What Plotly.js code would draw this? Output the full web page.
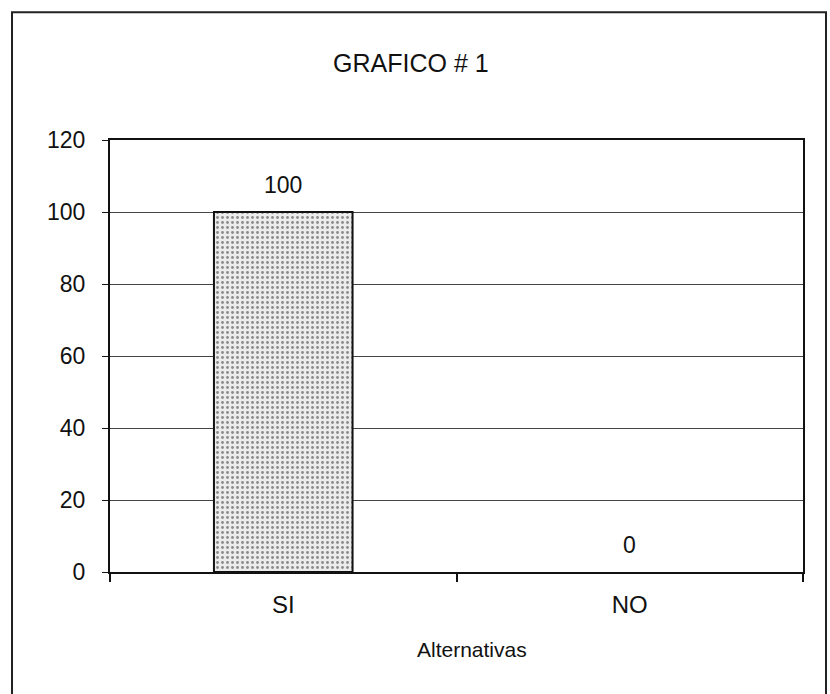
<!DOCTYPE html>
<html>
<head>
<meta charset="utf-8">
<script src="https://cdn.plot.ly/plotly-3.0.1.min.js"></script>
<style>html,body{margin:0;padding:0;background:#fff;}#chart{width:830px;height:694px;}</style>
</head>
<body>
<div id="chart"></div>
<script>
const categories = ['SI', 'NO'];
const values = [100, 0];
const valueLabels = ['100', '0'];
const yTicks = [0, 20, 40, 60, 80, 100, 120];
const chartTitle = 'GRAFICO # 1';
const xTitle = 'Alternativas';

const FONT = '"Liberation Sans", Arial, sans-serif';

const trace = {
  type: 'bar',
  x: categories,
  y: values,
  width: 0.4,
  marker: {
    color: '#ececec',
    line: {color: '#111', width: values.map(v => v > 0 ? 2 : 0)},
    pattern: {shape: '.', fgcolor: '#8a8a8a', bgcolor: '#ececec', size: 5, solidity: 0.25}
  },
  hoverinfo: 'none'
};

const labelAnnotations = categories.map((c, i) => ({
  xref: 'x', yref: 'y', x: c, y: values[i],
  text: valueLabels[i], showarrow: false,
  yanchor: 'middle', yshift: 27,
  font: {family: FONT, size: 23, color: '#111'}
}));

const layout = {
  width: 830,
  height: 694,
  margin: {l: 110, r: 27, t: 140, b: 122},
  paper_bgcolor: '#ffffff',
  plot_bgcolor: '#ffffff',
  font: {family: FONT, color: '#111'},
  showlegend: false,
  title: {
    text: chartTitle,
    font: {family: FONT, size: 25, color: '#111'},
    xref: 'container', x: 0.495, xanchor: 'center',
    yref: 'container', y: 0.909, yanchor: 'middle'
  },
  xaxis: {
    type: 'category',
    tickson: 'boundaries',
    ticks: 'outside',
    ticklen: 8,
    tickwidth: 2,
    tickcolor: '#111',
    showline: true,
    linecolor: '#111',
    linewidth: 2,
    mirror: true,
    showgrid: false,
    tickfont: {family: FONT, size: 24, color: '#111'},
    ticklabelstandoff: 10
  },
  yaxis: {
    range: [0, 120],
    tickvals: yTicks,
    ticktext: yTicks.map(String),
    ticks: 'outside',
    ticklen: 6,
    tickwidth: 1,
    tickcolor: '#111',
    showline: true,
    linecolor: '#111',
    linewidth: 2,
    mirror: true,
    showgrid: true,
    gridcolor: '#444',
    gridwidth: 1,
    zeroline: false,
    tickfont: {family: FONT, size: 23, color: '#111'},
    ticklabelstandoff: 12
  },
  annotations: labelAnnotations.concat([{
    xref: 'paper', yref: 'paper', x: 0.522, y: -0.18,
    xanchor: 'center', yanchor: 'middle', showarrow: false,
    text: xTitle, font: {family: FONT, size: 21, color: '#111'}
  }]),
  shapes: [{
    type: 'rect', xref: 'paper', yref: 'paper',
    x0: -0.1414, x1: 1.0332, y0: -0.30, y1: 1.296,
    line: {color: '#222', width: 2}, fillcolor: 'rgba(0,0,0,0)', layer: 'below'
  }]
};

Plotly.newPlot('chart', [trace], layout, {staticPlot: true, displayModeBar: false});
</script>
</body>
</html>
